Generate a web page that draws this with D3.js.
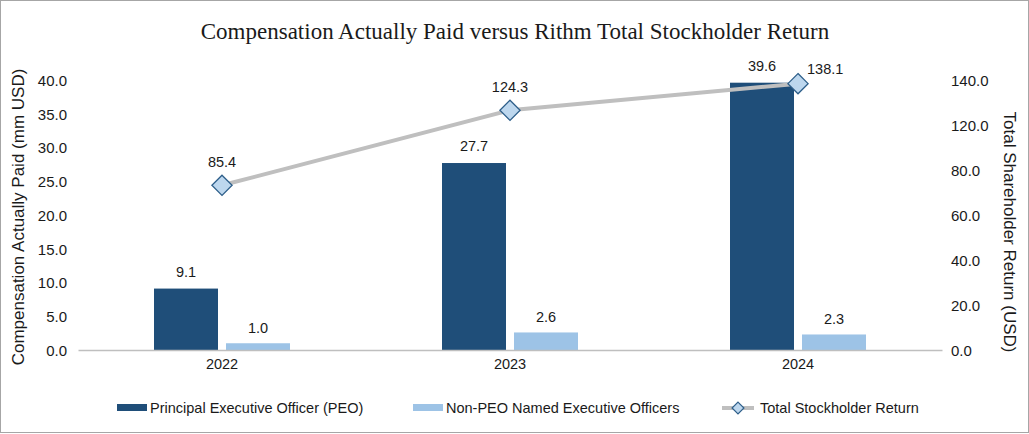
<!DOCTYPE html>
<html>
<head>
<meta charset="utf-8">
<script src="https://cdn.jsdelivr.net/npm/d3@7"></script>
<style>
  html, body { margin: 0; padding: 0; background: #fff; }
  svg { display: block; font-family: "Liberation Sans", Arial, sans-serif; }
</style>
</head>
<body>
<svg id="chart" width="1029" height="434"></svg>
<script>
// datos
const years = ["2022", "2023", "2024"];
const peo = [9.1, 27.7, 39.6];
const nonPeo = [1.0, 2.6, 2.3];
const tsr = [85.4, 124.3, 138.1];
const leftTicks = [0, 5, 10, 15, 20, 25, 30, 35, 40];
const rightTickLabels = ["0.0", "20.0", "40.0", "60.0", "80.0", "120.0", "140.0"];

const svg = d3.select("#chart");
const W = 1029, H = 434;
const plot = { left: 78, right: 942, top: 80, bottom: 350 };

// marco
svg.append("rect")
    .attr("x", 0.5).attr("y", 0.5)
    .attr("width", W - 1).attr("height", H - 2)
    .attr("fill", "none").attr("stroke", "#a6a6a6");

// titulo
svg.append("text")
    .attr("x", 515).attr("y", 39)
    .attr("text-anchor", "middle")
    .style("font-family", "'Liberation Serif', 'Times New Roman', serif")
    .style("font-size", "23px")
    .attr("fill", "#1a1a1a")
    .text("Compensation Actually Paid versus Rithm Total Stockholder Return");

const x = d3.scaleBand().domain(years).range([plot.left, plot.right]);
const yL = d3.scaleLinear().domain([0, 40]).range([plot.bottom, plot.top]);
const yR = d3.scaleLinear().domain([0, 140]).range([plot.bottom, plot.top]);
// etiquetas del eje derecho espaciadas por indice
const yRTick = d3.scaleLinear().domain([0, rightTickLabels.length - 1]).range([plot.bottom, plot.top]);

const barW = 64, gap = 4;

// eje izquierdo
const leftAxis = svg.append("g")
    .attr("transform", `translate(${plot.left - 8},0)`)
    .call(d3.axisLeft(yL).tickValues(leftTicks).tickSize(0).tickFormat(d3.format(".1f")));
leftAxis.select(".domain").remove();
leftAxis.selectAll("text").style("font-size", "15px").attr("fill", "#1a1a1a").attr("dy", "0.35em");

// eje derecho
const rightAxis = svg.append("g")
    .attr("transform", `translate(${plot.right + 6},0)`)
    .call(d3.axisRight(yRTick).tickValues(d3.range(rightTickLabels.length)).tickSize(0)
        .tickFormat(i => rightTickLabels[i]));
rightAxis.select(".domain").remove();
rightAxis.selectAll("text").style("font-size", "15px").attr("fill", "#1a1a1a").attr("dy", "0.35em");

// titulos de ejes
svg.append("text")
    .attr("transform", `translate(24,217) rotate(-90)`)
    .attr("text-anchor", "middle")
    .style("font-size", "17px").attr("fill", "#1a1a1a")
    .text("Compensation Actually Paid (mm USD)");
svg.append("text")
    .attr("transform", `translate(1004,232) rotate(90)`)
    .attr("text-anchor", "middle")
    .style("font-size", "17px").attr("fill", "#1a1a1a")
    .text("Total Shareholder Return (USD)");

// barras
const cx = d => x(d) + x.bandwidth() / 2;
svg.selectAll(".peo").data(years).enter().append("rect")
    .attr("x", d => cx(d) - gap - barW)
    .attr("y", (d, i) => yL(peo[i]))
    .attr("width", barW)
    .attr("height", (d, i) => yL(0) - yL(peo[i]))
    .attr("fill", "#1f4e79");
svg.selectAll(".npeo").data(years).enter().append("rect")
    .attr("x", d => cx(d) + gap)
    .attr("y", (d, i) => yL(nonPeo[i]))
    .attr("width", barW)
    .attr("height", (d, i) => yL(0) - yL(nonPeo[i]))
    .attr("fill", "#9dc3e6");

// linea base
const bottomAxis = svg.append("g")
    .attr("transform", `translate(0,${plot.bottom})`)
    .call(d3.axisBottom(x).tickSize(0));
bottomAxis.select(".domain").attr("stroke", "#bfbfbf").attr("stroke-width", 1.5);
bottomAxis.selectAll("text").style("font-size", "14.5px").attr("fill", "#1a1a1a").attr("dy", "1.1em");

// etiquetas de barras
svg.selectAll(".peoLbl").data(years).enter().append("text")
    .attr("x", d => cx(d) - gap - barW / 2)
    .attr("y", (d, i) => yL(peo[i]) - 12)
    .attr("text-anchor", "middle").style("font-size", "14.5px").attr("fill", "#1a1a1a")
    .text((d, i) => peo[i].toFixed(1));
svg.selectAll(".npeoLbl").data(years).enter().append("text")
    .attr("x", d => cx(d) + gap + barW / 2)
    .attr("y", (d, i) => yL(nonPeo[i]) - 10)
    .attr("text-anchor", "middle").style("font-size", "14.5px").attr("fill", "#1a1a1a")
    .text((d, i) => nonPeo[i].toFixed(1));

// linea TSR
const line = d3.line().x((d, i) => cx(years[i])).y(d => yR(d));
svg.append("path").datum(tsr)
    .attr("d", line)
    .attr("fill", "none").attr("stroke", "#bfbfbf").attr("stroke-width", 4);

const diamond = d3.symbol().type(d3.symbolDiamond2).size(260);
svg.selectAll(".tsrPt").data(tsr).enter().append("path")
    .attr("d", diamond)
    .attr("transform", (d, i) => `translate(${cx(years[i])},${yR(d)})`)
    .attr("fill", "#bdd7ee").attr("stroke", "#2e5f8a").attr("stroke-width", 1.3);

svg.selectAll(".tsrLbl").data(tsr).enter().append("text")
    .attr("x", (d, i) => i === 2 ? cx(years[i]) + 9 : cx(years[i]))
    .attr("y", (d, i) => i === 2 ? yR(d) - 10 : yR(d) - 18)
    .attr("text-anchor", (d, i) => i === 2 ? "start" : "middle")
    .style("font-size", "14.5px").attr("fill", "#1a1a1a")
    .text(d => d.toFixed(1));

// leyenda
const legY = 408;
const leg = [
    { label: "Principal Executive Officer (PEO)", x: 117, type: "bar", color: "#1f4e79" },
    { label: "Non-PEO Named Executive Officers", x: 413, type: "bar", color: "#9dc3e6" },
    { label: "Total Stockholder Return", x: 722, type: "line" }
];
leg.forEach(function (l) {
    if (l.type === "bar") {
        svg.append("rect").attr("x", l.x).attr("y", legY - 4).attr("width", 30).attr("height", 7).attr("fill", l.color);
    } else {
        svg.append("line").attr("x1", l.x).attr("x2", l.x + 32).attr("y1", legY).attr("y2", legY)
            .attr("stroke", "#bfbfbf").attr("stroke-width", 4);
        svg.append("path").attr("d", d3.symbol().type(d3.symbolDiamond2).size(90))
            .attr("transform", `translate(${l.x + 16},${legY})`)
            .attr("fill", "#bdd7ee").attr("stroke", "#2e5f8a").attr("stroke-width", 1.2);
    }
    svg.append("text").attr("x", l.x + (l.type === "bar" ? 33 : 38)).attr("y", legY + 5)
        .style("font-size", "14.5px").attr("fill", "#1a1a1a").text(l.label);
});
</script>
</body>
</html>
